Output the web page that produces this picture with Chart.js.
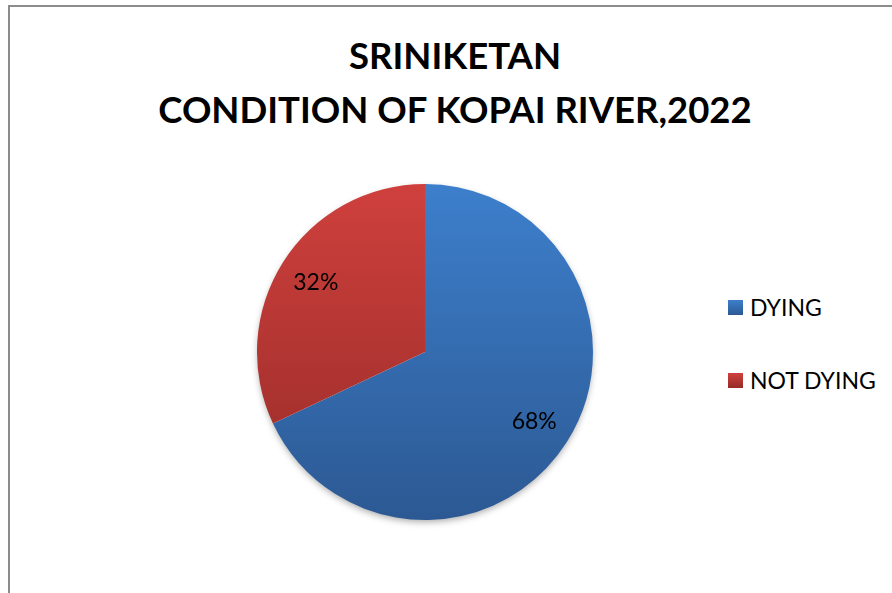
<!DOCTYPE html>
<html>
<head>
<meta charset="utf-8">
<script src="https://cdn.jsdelivr.net/npm/chart.js@4.4.1/dist/chart.umd.min.js"></script>
<style>
  html, body { margin:0; padding:0; background:#fff; overflow:hidden; }
  body { width:892px; height:593px; position:relative; font-family:Lato, "Open Sans", sans-serif; }
  .frame { position:absolute; left:8px; top:5px; right:-10px; bottom:-10px; border:2px solid #8c8c8c; }
  .title { position:absolute; left:18px; right:0; top:28px; text-align:center; font-weight:700; font-size:36.5px; line-height:54px; color:#000; }
  .chart-box { position:absolute; left:245px; top:172px; width:360px; height:360px; }
  .legend { position:absolute; left:728px; top:291px; font-size:23px; color:#000; }
  .legend div { height:73px; line-height:32px; white-space:nowrap; }
  .legend span.sw { display:inline-block; width:15px; height:15px; margin-right:7px; vertical-align:1px; }
</style>
</head>
<body>
<div class="frame"></div>
<div class="title">SRINIKETAN<br>CONDITION OF KOPAI RIVER,2022</div>
<div class="chart-box"><canvas id="pieChart" width="360" height="360"></canvas></div>
<div class="legend" id="pieLegend"></div>
<script>
// condición del río
const labels = ['DYING', 'NOT DYING'];
const values = [68, 32];
const topColors = ['#3d7fcc', '#cf403d'];
const bottomColors = ['#2c5993', '#962b28'];

// degradado vertical por porción, sobre el área del gráfico
const sliceFill = (ctx) => {
  const chart = ctx.chart;
  const area = chart.chartArea;
  if (!area) return topColors[ctx.dataIndex];
  const g = chart.ctx.createLinearGradient(0, area.top, 0, area.bottom);
  g.addColorStop(0, topColors[ctx.dataIndex]);
  g.addColorStop(1, bottomColors[ctx.dataIndex]);
  return g;
};

// sombra suave bajo el círculo
const pieShadow = {
  id: 'pieShadow',
  beforeDatasetsDraw(chart) {
    const arc = chart.getDatasetMeta(0).data[0];
    if (!arc) return;
    const c = chart.ctx;
    c.save();
    c.shadowColor = 'rgba(0,0,0,0.35)';
    c.shadowBlur = 7;
    c.shadowOffsetY = 3;
    c.fillStyle = '#fff';
    c.beginPath();
    c.arc(arc.x, arc.y, arc.outerRadius - 1, 0, Math.PI * 2);
    c.fill();
    c.restore();
  }
};

// porcentajes dentro de cada porción
const pctLabels = {
  id: 'pctLabels',
  afterDatasetsDraw(chart) {
    const c = chart.ctx;
    c.save();
    c.font = '23px Lato, "Open Sans", sans-serif';
    c.fillStyle = '#000';
    c.textAlign = 'center';
    c.textBaseline = 'middle';
    chart.getDatasetMeta(0).data.forEach((arc, i) => {
      const mid = (arc.startAngle + arc.endAngle) / 2;
      const r = arc.outerRadius * 0.77;
      c.fillText(values[i] + '%', arc.x + Math.cos(mid) * r, arc.y + Math.sin(mid) * r);
    });
    c.restore();
  }
};

new Chart(document.getElementById('pieChart'), {
  type: 'pie',
  data: { labels, datasets: [{ data: values, backgroundColor: sliceFill, borderWidth: 0 }] },
  options: {
    responsive: false,
    animation: false,
    layout: { padding: 12 },
    plugins: { legend: { display: false }, tooltip: { enabled: false } }
  },
  plugins: [pieShadow, pctLabels]
});

// leyenda simple
document.getElementById('pieLegend').innerHTML = labels.map((l, i) =>
  `<div><span class="sw" style="background:linear-gradient(${topColors[i]}, ${bottomColors[i]})"></span>${l}</div>`
).join('');
</script>
</body>
</html>
